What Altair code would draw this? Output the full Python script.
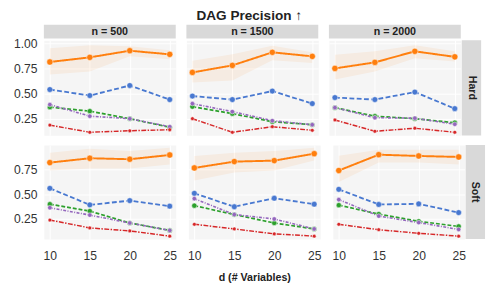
import altair as alt
import pandas as pd

# ---------------- data ----------------
D_VALUES = [10, 15, 20, 25]
N_VALUES = [500, 1500, 2000]
SETTINGS = ["Hard", "Soft"]
Y_TICKS = [0.25, 0.5, 0.75, 1.0]
METHODS = ["Method A", "Method B", "Method C", "Method D", "Method E"]
COLORS = ["#ff7f0e", "#4878d0", "#2ca02c", "#9467bd", "#d62728"]
DASHES = [[1, 0], [5, 2.5], [4, 2], [3, 1.5, 1, 1.5], [5, 1.5, 1.5, 1.5]]

# Hard setting
hard_500 = {
    "Method A": [0.814, 0.860, 0.926, 0.890],
    "Method B": [0.540, 0.480, 0.580, 0.440],
    "Method C": [0.365, 0.325, 0.250, 0.165],
    "Method D": [0.390, 0.275, 0.250, 0.170],
    "Method E": [0.186, 0.115, 0.130, 0.140],
}
hard_500_lo = [0.69, 0.72, 0.87, 0.84]
hard_500_hi = [0.95, 0.98, 0.97, 0.93]

hard_1500 = {
    "Method A": [0.710, 0.780, 0.910, 0.870],
    "Method B": [0.475, 0.440, 0.525, 0.400],
    "Method C": [0.370, 0.300, 0.220, 0.190],
    "Method D": [0.400, 0.320, 0.230, 0.190],
    "Method E": [0.250, 0.115, 0.170, 0.135],
}
hard_1500_lo = [0.61, 0.63, 0.83, 0.805]
hard_1500_hi = [0.827, 0.89, 0.975, 0.91]

hard_2000 = {
    "Method A": [0.750, 0.810, 0.920, 0.865],
    "Method B": [0.460, 0.440, 0.515, 0.350],
    "Method C": [0.360, 0.275, 0.250, 0.210],
    "Method D": [0.360, 0.260, 0.255, 0.195],
    "Method E": [0.237, 0.125, 0.155, 0.115],
}
hard_2000_lo = [0.64, 0.72, 0.85, 0.82]
hard_2000_hi = [0.885, 0.92, 0.98, 0.92]

# Soft setting
soft_500 = {
    "Method A": [0.820, 0.864, 0.854, 0.897],
    "Method B": [0.560, 0.393, 0.436, 0.380],
    "Method C": [0.400, 0.330, 0.210, 0.135],
    "Method D": [0.364, 0.290, 0.210, 0.135],
    "Method E": [0.240, 0.160, 0.130, 0.077],
}
soft_500_lo = [0.74, 0.76, 0.76, 0.80]
soft_500_hi = [0.92, 0.96, 0.936, 0.97]

soft_1500 = {
    "Method A": [0.766, 0.830, 0.840, 0.910],
    "Method B": [0.510, 0.374, 0.460, 0.400],
    "Method C": [0.385, 0.295, 0.210, 0.150],
    "Method D": [0.456, 0.295, 0.250, 0.150],
    "Method E": [0.197, 0.150, 0.100, 0.077],
}
soft_1500_lo = [0.64, 0.72, 0.74, 0.84]
soft_1500_hi = [0.887, 0.92, 0.936, 0.97]

soft_2000 = {
    "Method A": [0.740, 0.900, 0.887, 0.877],
    "Method B": [0.550, 0.397, 0.403, 0.315],
    "Method C": [0.390, 0.300, 0.227, 0.175],
    "Method D": [0.446, 0.280, 0.214, 0.145],
    "Method E": [0.197, 0.142, 0.106, 0.077],
}
soft_2000_lo = [0.625, 0.82, 0.82, 0.80]
soft_2000_hi = [0.89, 0.95, 0.95, 0.95]

PANELS = {
    ("Hard", 500): (hard_500, hard_500_lo, hard_500_hi),
    ("Hard", 1500): (hard_1500, hard_1500_lo, hard_1500_hi),
    ("Hard", 2000): (hard_2000, hard_2000_lo, hard_2000_hi),
    ("Soft", 500): (soft_500, soft_500_lo, soft_500_hi),
    ("Soft", 1500): (soft_1500, soft_1500_lo, soft_1500_hi),
    ("Soft", 2000): (soft_2000, soft_2000_lo, soft_2000_hi),
}

# ---------------- chart ----------------
W = 136
ROW_H = {"Hard": 98, "Soft": 97}
ROW_DOMAIN = {"Hard": [0.084, 1.029], "Soft": [0.047, 0.997]}
FONT = "Liberation Sans"
X_SCALE = alt.Scale(domain=[9.25, 25.75], nice=False, zero=False)
STRIP = "#d9d9d9"


def panel(setting, n, ci, ri):
    H = ROW_H[setting]
    y_scale = alt.Scale(domain=ROW_DOMAIN[setting], nice=False, zero=False)
    vals, lo, hi = PANELS[(setting, n)]
    recs = []
    for m in METHODS:
        for d, v in zip(D_VALUES, vals[m]):
            recs.append({"method": m, "d": d, "value": v})
    df = pd.DataFrame(recs)
    band = pd.DataFrame({"d": D_VALUES, "lo": lo, "hi": hi})

    xkw = dict(values=D_VALUES, grid=True, ticks=False, domain=False,
               gridColor="white", gridWidth=1, labelFontSize=12.5, labelPadding=11,
               labelColor="#333333", labelFont=FONT, labelOverlap=False)
    if ri == 1:
        if ci == 1:
            xkw.update(title="d (# Variables)", titleFontSize=11, titleFontWeight="bold",
                       titlePadding=10, titleColor="#222222", titleFont=FONT)
        else:
            xkw.update(title="")
    else:
        xkw.update(labels=False, title="")
    ykw = dict(values=Y_TICKS, format=".2f", grid=True, ticks=False,
               domain=False, gridColor="white", gridWidth=1, labelFontSize=12.5,
               labelPadding=7, labelColor="#333333", title="", labelFont=FONT,
               labelOverlap=False, labelFlush=False)
    if ci != 0:
        ykw.update(labels=False)

    x_axis = alt.Axis(**xkw)
    y_axis = alt.Axis(**ykw)
    x = alt.X("d:Q", scale=X_SCALE, axis=x_axis)

    band_layer = alt.Chart(band).mark_area(color="#ff7f0e", opacity=0.08).encode(
        x=x,
        y=alt.Y("lo:Q", scale=y_scale, axis=y_axis),
        y2="hi:Q",
    )
    color = alt.Color("method:N", scale=alt.Scale(domain=METHODS, range=COLORS), legend=None)
    lines = alt.Chart(df).mark_line().encode(
        x=x,
        y=alt.Y("value:Q", scale=y_scale, axis=y_axis),
        color=color,
        strokeDash=alt.StrokeDash("method:N", scale=alt.Scale(domain=METHODS, range=DASHES), legend=None),
        strokeWidth=alt.StrokeWidth("method:N", scale=alt.Scale(domain=METHODS, range=[2, 1.5, 1.5, 1.5, 1.5]), legend=None),
        detail="method:N",
    )
    points = alt.Chart(df).mark_circle(opacity=1, stroke="white", strokeWidth=0.5).encode(
        x=x,
        y=alt.Y("value:Q", scale=y_scale, axis=y_axis),
        color=color,
        size=alt.Size("method:N", scale=alt.Scale(domain=METHODS, range=[42, 15, 15, 15, 15]), legend=None),
    )
    layers = [band_layer, lines, points]
    one = pd.DataFrame({"k": [0]})
    if ri == 0:
        layers.append(alt.Chart(one).mark_rect(color=STRIP).encode(
            x=alt.value(0), x2=alt.value(W), y=alt.value(-16), y2=alt.value(-2)))
        layers.append(alt.Chart(one).mark_text(
            text=f"n = {n}", fontWeight="bold", fontSize=11, color="#222222",
            baseline="middle", align="center", font=FONT).encode(
            x=alt.value(W / 2), y=alt.value(-9)))
    if ci == 2:
        layers.append(alt.Chart(one).mark_rect(color=STRIP).encode(
            x=alt.value(W + 1), x2=alt.value(W + 21), y=alt.value(0), y2=alt.value(H)))
        layers.append(alt.Chart(one).mark_text(
            text=setting, fontWeight="bold", fontSize=11, color="#222222", angle=90,
            baseline="middle", align="center", font=FONT).encode(
            x=alt.value(W + 11), y=alt.value(H / 2)))
    return alt.layer(*layers).properties(width=W, height=H)


rows = []
for ri, s in enumerate(SETTINGS):
    rows.append(alt.hconcat(*[panel(s, n, ci, ri) for ci, n in enumerate(N_VALUES)], spacing=9))

chart = alt.vconcat(*rows, spacing=8).properties(
    title=alt.TitleParams("DAG Precision ↑", fontSize=14, fontWeight="bold", anchor="middle",
                          color="#222222", offset=1, font=FONT),
    padding={"left": 5, "top": -3, "right": 0, "bottom": 0},
).configure_view(fill="#f5f5f5", stroke="transparent")

chart.save("out.html", embed_options={"renderer": "svg", "actions": False})
